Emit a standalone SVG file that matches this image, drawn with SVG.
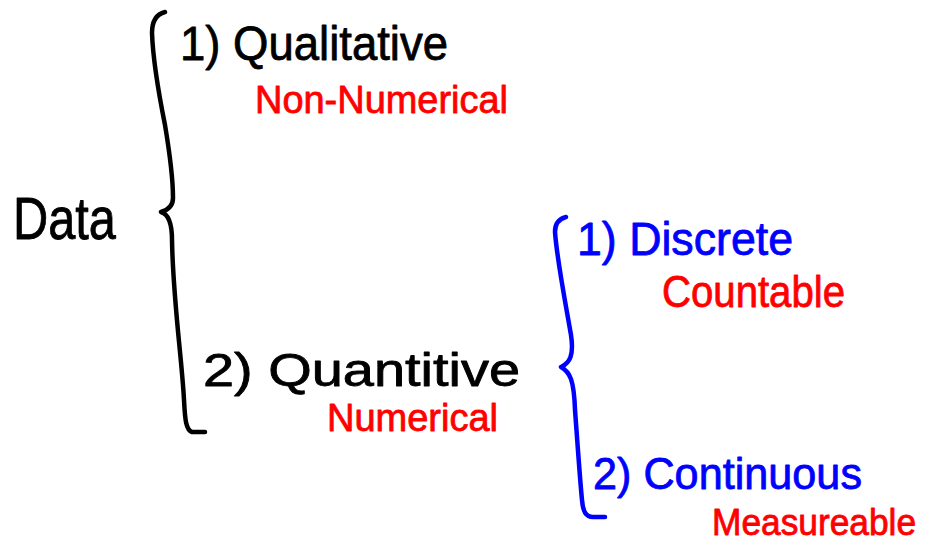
<svg xmlns="http://www.w3.org/2000/svg" width="926" height="548" viewBox="0 0 926 548">
<style>
  text { font-family: "Liberation Sans", "DejaVu Sans", sans-serif; stroke-width: 0.8; stroke-linejoin: round; }
  .k { fill: #000000; stroke: #000000; }
  .r { fill: #ff0000; stroke: #ff0000; }
  .b { fill: #0000ff; stroke: #0000ff; }
  .brace { fill: none; stroke-width: 4.5; stroke-linecap: round; stroke-linejoin: round; }
</style>
<rect width="926" height="548" fill="#ffffff"/>
<g id="connectors">
  <path class="brace" stroke="#000000" d="M165,12 C157,14 152,20 152,33 C153,60 158,90 165,125 C170,155 173,180 173,198 C173,206 168,210 161,212 C168,214 172,222 172,240 C173,300 182,360 184,400 C185,420 186,430 192,432 L205,432"/>
  <path class="brace" stroke="#0000ff" d="M566,217 C558,219 555,224 555,232 C557,260 565,300 571,335 C574,355 570,363 561,367 C570,372 574,380 575,410 C578,450 580,480 582,500 C583,512 586,517 593,517 L605,517"/>
</g>
<g id="data">
  <text class="k" x="13" y="239" font-size="60" textLength="103" lengthAdjust="spacingAndGlyphs">Data</text>
</g>
<g id="qualitative">
  <text class="k" x="180" y="60" font-size="48" textLength="268" lengthAdjust="spacingAndGlyphs">1) Qualitative</text>
  <text class="r" x="255" y="113" font-size="38" textLength="253" lengthAdjust="spacingAndGlyphs">Non-Numerical</text>
</g>
<g id="quantitive">
  <text class="k" x="203" y="386" font-size="46" textLength="317" lengthAdjust="spacingAndGlyphs">2) Quantitive</text>
  <text class="r" x="327" y="431" font-size="38" textLength="171" lengthAdjust="spacingAndGlyphs">Numerical</text>
</g>
<g id="discrete">
  <text class="b" x="577" y="255" font-size="46" textLength="216" lengthAdjust="spacingAndGlyphs">1) Discrete</text>
  <text class="r" x="662" y="307" font-size="44" textLength="183" lengthAdjust="spacingAndGlyphs">Countable</text>
</g>
<g id="continuous">
  <text class="b" x="593" y="489" font-size="44" textLength="269" lengthAdjust="spacingAndGlyphs">2) Continuous</text>
  <text class="r" x="712" y="535" font-size="36" textLength="204" lengthAdjust="spacingAndGlyphs">Measureable</text>
</g>
</svg>
